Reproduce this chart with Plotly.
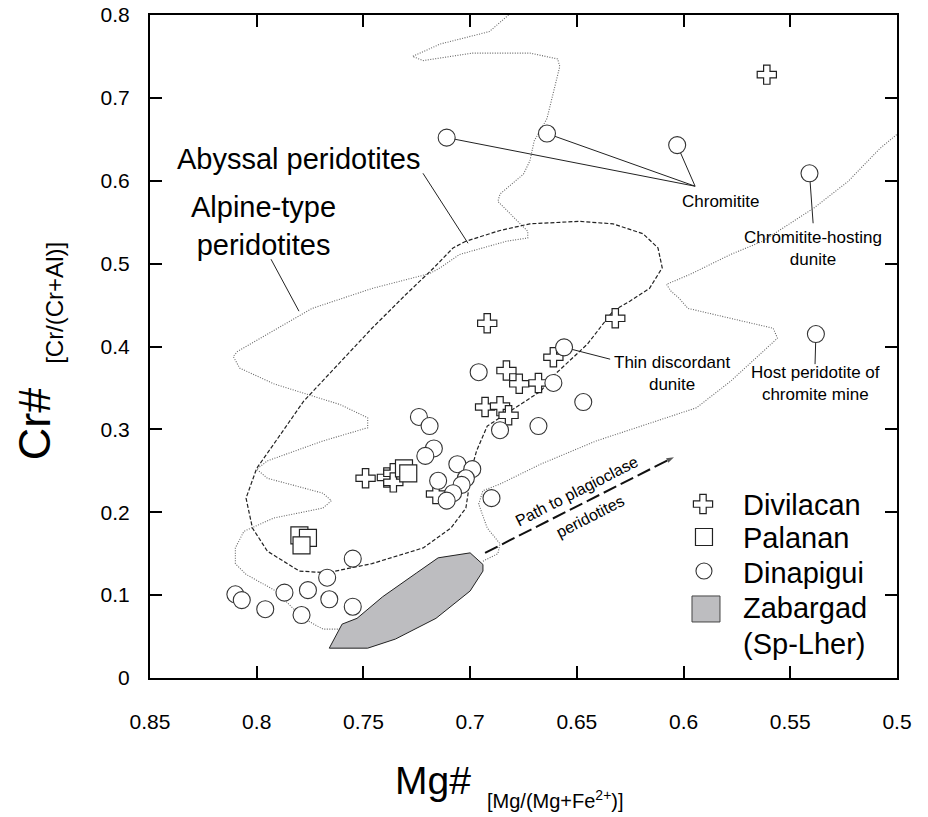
import plotly.graph_objects as go

FONT = "Liberation Sans, Arial, Helvetica, sans-serif"

# ---------------- data (Mg#, Cr#) ----------------
divilacan_mg = [0.561, 0.632, 0.692, 0.661, 0.683, 0.677, 0.668, 0.693, 0.686, 0.682,
                0.749, 0.739, 0.736, 0.736, 0.716]
divilacan_cr = [0.728, 0.434, 0.428, 0.387, 0.371, 0.355, 0.356, 0.327, 0.328, 0.317,
                0.241, 0.242, 0.247, 0.236, 0.222]

palanan_mg = [0.780, 0.776, 0.779, 0.731, 0.729]
palanan_cr = [0.172, 0.169, 0.160, 0.253, 0.247]

dinapigui_mg = [0.711, 0.664, 0.603, 0.541, 0.538, 0.656, 0.696, 0.661, 0.647, 0.686,
                0.668, 0.724, 0.719, 0.717, 0.721, 0.706, 0.699, 0.702, 0.715, 0.704,
                0.708, 0.711, 0.690, 0.755, 0.767, 0.776, 0.787, 0.766, 0.755, 0.779,
                0.796, 0.810, 0.807]
dinapigui_cr = [0.652, 0.657, 0.643, 0.609, 0.415, 0.399, 0.369, 0.356, 0.333, 0.299,
                0.304, 0.315, 0.304, 0.277, 0.268, 0.258, 0.252, 0.241, 0.238, 0.233,
                0.223, 0.214, 0.217, 0.144, 0.121, 0.106, 0.103, 0.095, 0.086, 0.076,
                0.083, 0.101, 0.094]

zabargad_mg = [0.766, 0.760, 0.753, 0.741, 0.725, 0.715, 0.700, 0.694, 0.694, 0.700,
               0.716, 0.735, 0.748, 0.766]
zabargad_cr = [0.036, 0.065, 0.072, 0.098, 0.127, 0.145, 0.151, 0.137, 0.129, 0.105,
               0.072, 0.047, 0.036, 0.036]

# Abyssal peridotite field (closed)
abyssal_mg = [0.702, 0.708, 0.717, 0.730, 0.746, 0.755, 0.778, 0.791, 0.800, 0.805,
              0.802, 0.795, 0.780, 0.767, 0.746, 0.722, 0.709, 0.702, 0.701, 0.700,
              0.697, 0.692, 0.686, 0.667, 0.660, 0.645, 0.633, 0.625, 0.616, 0.610,
              0.612, 0.619, 0.633, 0.649, 0.672, 0.686, 0.702]
abyssal_cr = [0.527, 0.519, 0.495, 0.463, 0.422, 0.397, 0.334, 0.286, 0.253, 0.217,
              0.181, 0.153, 0.129, 0.127, 0.138, 0.157, 0.181, 0.205, 0.222, 0.246,
              0.274, 0.304, 0.314, 0.346, 0.367, 0.403, 0.443, 0.455, 0.470, 0.495,
              0.519, 0.536, 0.548, 0.551, 0.548, 0.540, 0.527]

# Alpine-type peridotite field: left and right boundaries
alpine_left_mg = [0.682, 0.691, 0.714, 0.727, 0.722, 0.699, 0.672, 0.659, 0.658, 0.664,
                  0.670, 0.672, 0.675, 0.686, 0.687, 0.681, 0.673, 0.673, 0.683, 0.705,
                  0.714, 0.719, 0.746, 0.774, 0.809, 0.811, 0.808, 0.792, 0.761, 0.748,
                  0.748, 0.769, 0.795, 0.800, 0.795, 0.769, 0.765, 0.769, 0.792, 0.806,
                  0.810, 0.810, 0.805, 0.791, 0.783, 0.776, 0.769, 0.761]
alpine_left_cr = [0.800, 0.780, 0.765, 0.750, 0.745, 0.754, 0.754, 0.747, 0.738, 0.675,
                  0.648, 0.624, 0.608, 0.584, 0.575, 0.560, 0.539, 0.531, 0.527, 0.511,
                  0.495, 0.488, 0.470, 0.446, 0.394, 0.388, 0.374, 0.355, 0.330, 0.314,
                  0.302, 0.286, 0.262, 0.252, 0.241, 0.223, 0.214, 0.205, 0.193, 0.177,
                  0.157, 0.138, 0.125, 0.105, 0.084, 0.069, 0.059, 0.059]
alpine_right_mg = [0.694, 0.687, 0.686, 0.692, 0.696, 0.694, 0.686, 0.667, 0.641, 0.617,
                   0.594, 0.578, 0.563, 0.556, 0.558, 0.578, 0.598, 0.602, 0.606, 0.608,
                   0.597, 0.578, 0.563, 0.539, 0.523, 0.508, 0.500]
alpine_right_cr = [0.141, 0.150, 0.162, 0.181, 0.210, 0.226, 0.234, 0.258, 0.286, 0.306,
                   0.326, 0.358, 0.394, 0.410, 0.422, 0.434, 0.446, 0.458, 0.467, 0.475,
                   0.487, 0.511, 0.527, 0.567, 0.599, 0.639, 0.656]

# Trend arrow (path to plagioclase peridotites)
path_mg = [0.693, 0.6045]
path_cr = [0.151, 0.2665]

x_ticks = [0.85, 0.8, 0.75, 0.7, 0.65, 0.6, 0.55, 0.5]
x_tick_text = ["0.85", "0.8", "0.75", "0.7", "0.65", "0.6", "0.55", "0.5"]
y_ticks = [0, 0.1, 0.2, 0.3, 0.4, 0.5, 0.6, 0.7, 0.8]
y_tick_text = ["0", "0.1", "0.2", "0.3", "0.4", "0.5", "0.6", "0.7", "0.8"]

# ---------------- figure ----------------
fig = go.Figure()

fig.add_trace(go.Scatter(x=alpine_left_mg, y=alpine_left_cr, mode="lines",
                         line=dict(color="#666666", width=1.1, dash="1px,1.5px"),
                         showlegend=False, hoverinfo="skip"))
fig.add_trace(go.Scatter(x=alpine_right_mg, y=alpine_right_cr, mode="lines",
                         line=dict(color="#666666", width=1.1, dash="1px,1.5px"),
                         showlegend=False, hoverinfo="skip"))
fig.add_trace(go.Scatter(x=abyssal_mg, y=abyssal_cr, mode="lines",
                         line=dict(color="#222222", width=1.2, dash="4px,2px"),
                         showlegend=False, hoverinfo="skip"))
fig.add_trace(go.Scatter(x=zabargad_mg, y=zabargad_cr, mode="lines", fill="toself",
                         fillcolor="#bdbdc0", line=dict(color="#222222", width=1),
                         name="Zabargad (Sp-Lher)", showlegend=False))
fig.add_trace(go.Scatter(x=path_mg, y=path_cr, mode="lines+markers",
                         line=dict(color="#111111", width=2, dash="14px,5px"),
                         marker=dict(symbol="arrow", angleref="previous", size=[0, 8],
                                     color="#111111", line=dict(width=0)),
                         showlegend=False, hoverinfo="skip"))

fig.add_trace(go.Scatter(x=divilacan_mg, y=divilacan_cr, mode="markers", name="Divilacan",
                         marker=dict(symbol="cross", size=16, color="white",
                                     line=dict(color="#222222", width=1.2)),
                         showlegend=False))
fig.add_trace(go.Scatter(x=palanan_mg, y=palanan_cr, mode="markers", name="Palanan",
                         marker=dict(symbol="square", size=17, color="white",
                                     line=dict(color="#222222", width=1.2)),
                         showlegend=False))
fig.add_trace(go.Scatter(x=dinapigui_mg, y=dinapigui_cr, mode="markers", name="Dinapigui",
                         marker=dict(symbol="circle", size=17, color="white",
                                     line=dict(color="#333333", width=1.1)),
                         showlegend=False))

# ---------------- leader lines ----------------
leaders = [
    (0.7221, 0.609, 0.701, 0.5246),     # Abyssal
    (0.7933, 0.5053, 0.7802, 0.4426),   # Alpine
    (0.711, 0.652, 0.5946, 0.5934),     # Chromitite 1
    (0.664, 0.657, 0.5946, 0.5934),     # Chromitite 2
    (0.603, 0.643, 0.5946, 0.5934),     # Chromitite 3
    (0.541, 0.609, 0.5393, 0.5487),     # Chromitite-hosting dunite
    (0.538, 0.415, 0.5384, 0.3787),     # Host peridotite
    (0.656, 0.399, 0.6344, 0.3847),     # Thin discordant dunite
]
for x0, y0, x1, y1 in leaders:
    fig.add_shape(type="line", x0=x0, y0=y0, x1=x1, y1=y1, xref="x", yref="y",
                  line=dict(color="#222222", width=1), layer="below")

# ---------------- text labels ----------------
def label(text, x, y, size, angle=0):
    fig.add_annotation(text=text, x=x, y=y, xref="x", yref="y", showarrow=False,
                       font=dict(family=FONT, size=size, color="black"),
                       textangle=angle, xanchor="center", yanchor="middle")

label("Abyssal peridotites", 0.7806, 0.626, 29)
label("Alpine-type<br>peridotites", 0.797, 0.545, 29)
label("Chromitite", 0.5829, 0.5753, 17)
label("Chromitite-hosting<br>dunite", 0.5393, 0.5186, 17)
label("Thin discordant<br>dunite", 0.6054, 0.3678, 17)
label("Host peridotite of<br>chromite mine", 0.5384, 0.3558, 17)
label("Path to plagioclase", 0.6504, 0.2255, 16, angle=-27)
label("peridotites", 0.6438, 0.1954, 16, angle=-27)

# ---------------- legend (drawn manually) ----------------
legend_names = ["Divilacan", "Palanan", "Dinapigui", "Zabargad", "(Sp-Lher)"]
legend_text_y = [0.2609, 0.2112, 0.1584, 0.1056, 0.0513]
for name, ty in zip(legend_names, legend_text_y):
    fig.add_annotation(text=name, x=0.7912, y=ty, xref="paper", yref="paper",
                       showarrow=False, xanchor="left", yanchor="middle",
                       font=dict(family=FONT, size=29, color="black"))

cross_path = ("M9.6,3.2H3.2V9.6H-3.2V3.2H-9.6V-3.2H-3.2V-9.6H3.2V-3.2H9.6Z")
fig.add_shape(type="path", path=cross_path, xsizemode="pixel", ysizemode="pixel",
              xanchor=0.7403, yanchor=0.2624, xref="paper", yref="paper",
              fillcolor="white", line=dict(color="#222222", width=1.2))
fig.add_shape(type="rect", xsizemode="pixel", ysizemode="pixel",
              x0=-8.5, x1=8.5, y0=-8.5, y1=8.5, xanchor=0.7416, yanchor=0.2127,
              xref="paper", yref="paper", fillcolor="white",
              line=dict(color="#222222", width=1.2))
fig.add_shape(type="circle", xsizemode="pixel", ysizemode="pixel",
              x0=-8, x1=8, y0=-8, y1=8, xanchor=0.7416, yanchor=0.1614,
              xref="paper", yref="paper", fillcolor="white",
              line=dict(color="#333333", width=1.1))
fig.add_shape(type="rect", xsizemode="pixel", ysizemode="pixel",
              x0=-14, x1=14, y0=-13, y1=13, xanchor=0.7443, yanchor=0.1041,
              xref="paper", yref="paper", fillcolor="#bdbdc0",
              line=dict(color="#444444", width=1))

# ---------------- axis titles ----------------
fig.add_annotation(text="Mg#", x=0.3795, y=-0.154, xref="paper", yref="paper",
                   showarrow=False, xanchor="center", yanchor="middle",
                   font=dict(family=FONT, size=39, color="black"))
fig.add_annotation(text="[Mg/(Mg+Fe<sup>2+</sup>)]", x=0.4485, y=-0.183,
                   xref="paper", yref="paper", showarrow=False,
                   xanchor="left", yanchor="middle",
                   font=dict(family=FONT, size=20, color="black"))
fig.add_annotation(text="Cr#", x=-0.155, y=0.383, xref="paper", yref="paper",
                   showarrow=False, xanchor="center", yanchor="middle", textangle=-90,
                   font=dict(family=FONT, size=45, color="black"))
fig.add_annotation(text="[Cr/(Cr+Al)]", x=-0.127, y=0.566, xref="paper", yref="paper",
                   showarrow=False, xanchor="center", yanchor="middle", textangle=-90,
                   font=dict(family=FONT, size=24, color="black"))

axis_common = dict(showgrid=False, zeroline=False, showline=True, linecolor="black",
                   linewidth=2, mirror="ticks", ticks="inside", ticklen=12,
                   tickwidth=1.5, tickcolor="black", automargin=False,
                   ticklabeloverflow="allow",
                   tickfont=dict(family=FONT, size=21, color="black"))

# page body adds an 8px offset, so the figure is 8px smaller on each axis
fig.update_layout(
    width=920, height=809,
    margin=dict(l=142, r=31, t=7, b=139, autoexpand=False),
    paper_bgcolor="white", plot_bgcolor="white",
    showlegend=False,
    xaxis=dict(range=[0.85, 0.5], tickvals=x_ticks, ticktext=x_tick_text,
               ticklabelstandoff=24, **axis_common),
    yaxis=dict(range=[0, 0.8], tickvals=y_ticks, ticktext=y_tick_text,
               ticklabelstandoff=14, **axis_common),
)

fig.write_html("out.html")
